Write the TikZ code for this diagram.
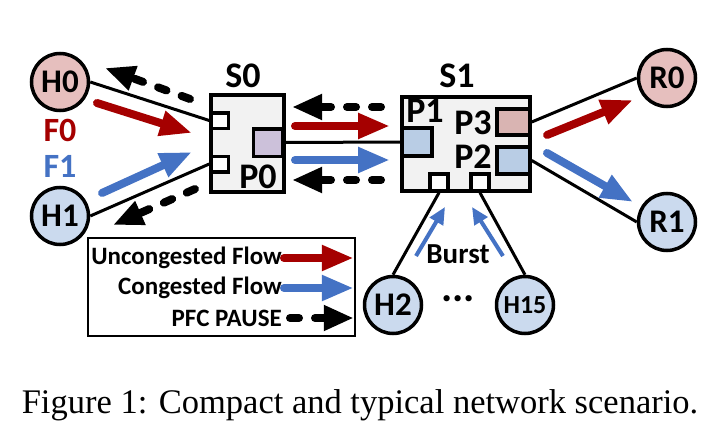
\documentclass[tikz,border=0pt]{standalone}
\usepackage{fontspec}
\setmainfont{Liberation Serif}
\newfontfamily\carlito{Carlito}
\usetikzlibrary{arrows.meta,calc}

\definecolor{flowred}{HTML}{A50000}
\definecolor{flowblue}{HTML}{4472C4}
\definecolor{hostred}{HTML}{E6BFBE}
\definecolor{hostblue}{HTML}{CBDAEE}
\definecolor{boxgray}{HTML}{F2F2F2}
\definecolor{portpurple}{HTML}{CCC1DA}
\definecolor{portblue}{HTML}{B9CDE5}
\definecolor{portred}{HTML}{D9B4B2}

\tikzset{
  host/.style={circle,draw,line width=3.5pt,minimum size=57pt,inner sep=0pt,
    font=\carlito\bfseries\fontsize{33}{33}\selectfont},
  switchbox/.style={rectangle,draw,line width=4pt,fill=boxgray,inner sep=0pt},
  port/.style={rectangle,draw,line width=3.5pt,inner sep=0pt},
  lbl/.style={inner sep=0pt,font=\carlito\bfseries\fontsize{36}{36}\selectfont},
  leglbl/.style={inner sep=0pt,anchor=east,font=\carlito\bfseries\fontsize{25}{25}\selectfont},
  link/.style={line width=3pt},
  redflow/.style={flowred,line width=8pt,line cap=round,-{Triangle[length=32pt,width=24pt]}},
  blueflow/.style={flowblue,line width=8pt,line cap=round,-{Triangle[length=32pt,width=24pt]}},
  pause/.style={black,line width=8pt,line cap=round,dash pattern=on 9pt off 16pt,
    -{Triangle[length=30pt,width=24pt]}},
  burstflow/.style={flowblue,line width=4pt,-{Triangle[length=17pt,width=15pt]}}
}

\begin{document}
\begin{tikzpicture}[x=1pt,y=-1pt]
  \useasboundingbox (0,0) rectangle (718,436);

  % hosts and receivers
  \draw (60,82) node[host,fill=hostred] (H0) {H0};
  \draw (60,216) node[host,fill=hostblue] (H1) {H1};
  \draw (667,78) node[host,fill=hostred] (R0) {R0};
  \draw (667,222) node[host,fill=hostblue] (R1) {R1};
  \draw (393,305) node[host,fill=hostblue] (H2) {H2};
  \draw (525,305) node[host,fill=hostblue,font=\carlito\bfseries\fontsize{26}{26}\selectfont] (H15) {H15};

  % switch S0
  \draw (247.5,143.5) node[switchbox,minimum width=73pt,minimum height=97pt] (S0) {};
  \draw (219.75,120.5) node[port,fill=white,minimum width=17.5pt,minimum height=15.5pt] (s0a) {};
  \draw (219.75,164) node[port,fill=white,minimum width=17.5pt,minimum height=15.5pt] (s0b) {};
  \draw (268,142.5) node[port,fill=portpurple,minimum width=29.5pt,minimum height=27.5pt] (P0) {};

  % switch S1
  \draw (466,144) node[switchbox,minimum width=128pt,minimum height=94pt] (S1) {};
  \draw (417,142) node[port,fill=portblue,minimum width=30pt,minimum height=28pt] (P1) {};
  \draw (513.5,122) node[port,fill=portred,minimum width=33pt,minimum height=26pt] (P3) {};
  \draw (513.5,160.5) node[port,fill=portblue,minimum width=33pt,minimum height=27pt] (P2) {};
  \draw (439,182.5) node[port,fill=white,minimum width=18pt,minimum height=17pt] (s1a) {};
  \draw (480,182.5) node[port,fill=white,minimum width=18pt,minimum height=17pt] (s1b) {};

  % labels
  \draw (243,76) node[lbl] (s0name) {S0};
  \draw (457,76) node[lbl] (s1name) {S1};
  \draw (258,177) node[lbl] (p0name) {P0};
  \draw (425,111) node[lbl] (p1name) {P1};
  \draw (473,123) node[lbl] (p3name) {P3};
  \draw (473,157) node[lbl] (p2name) {P2};
  \draw (60,130) node[lbl,text=flowred,font=\carlito\bfseries\fontsize{34}{34}\selectfont] (f0name) {F0};
  \draw (60,166) node[lbl,text=flowblue,font=\carlito\bfseries\fontsize{34}{34}\selectfont] (f1name) {F1};
  \draw (458,254) node[lbl,font=\carlito\bfseries\fontsize{29}{29}\selectfont] (burst) {Burst};
  \draw (458,298) node[lbl,text height=6pt,text depth=0pt,font=\carlito\bfseries\fontsize{42}{42}\selectfont] (dots) {...};

  % links
  \draw[link] (H0.east) -- (s0a.west);
  \draw[link] (H1.east) -- (s0b.west);
  \draw[link] (S0.east |- P0.east) -- (P1.west);
  \draw[link] (P3.east) -- (R0.west);
  \draw[link] (P2.east) -- (R1.west);
  \draw[link] (H2.north) -- (s1a.south);
  \draw[link] (H15.north) -- (s1b.south);

  % flow ends
  \coordinate (f0a) at (97,103);   \coordinate (f0b) at (192,133);
  \coordinate (f1a) at (102,193);  \coordinate (f1b) at (192,152);
  \coordinate (f2a) at (295,126);  \coordinate (f2b) at (390,126);
  \coordinate (f3a) at (295,160);  \coordinate (f3b) at (390,160);
  \coordinate (f4a) at (547,135);  \coordinate (f4b) at (633,100);
  \coordinate (f5a) at (547,153);  \coordinate (f5b) at (633,202);
  \coordinate (pa) at (190,99);    \coordinate (pb) at (105,68);
  \coordinate (pc) at (195,189);   \coordinate (pd) at (113,225);
  \coordinate (pe) at (381,107);   \coordinate (pf) at (292,107);
  \coordinate (pg) at (381,180);   \coordinate (ph) at (292,180);
  \coordinate (ba) at (416,256);   \coordinate (bb) at (445,207);
  \coordinate (bc) at (503,256);   \coordinate (bd) at (472,207);

  \draw[redflow] (f0a) -- (f0b);
  \draw[blueflow] (f1a) -- (f1b);
  \draw[redflow] (f2a) -- (f2b);
  \draw[blueflow] (f3a) -- (f3b);
  \draw[redflow] (f4a) -- (f4b);
  \draw[blueflow] (f5a) -- (f5b);
  \draw[pause] (pa) -- (pb);
  \draw[pause] (pc) -- (pd);
  \draw[pause] (pe) -- (pf);
  \draw[pause] (pg) -- (ph);
  \draw[burstflow] (ba) -- (bb);
  \draw[burstflow] (bc) -- (bd);

  % legend
  \draw (221.5,287) node[rectangle,draw,line width=1.5pt,minimum width=267pt,minimum height=98pt] (legend) {};
  \draw (282,258) node[leglbl] (lg1) {Uncongested Flow};
  \draw (282,288) node[leglbl] (lg2) {Congested Flow};
  \draw (282,318) node[leglbl] (lg3) {PFC PAUSE};
  \draw[redflow,shorten <=-2pt,shorten >=2pt] ($(lg1.east)+(4,0)$) -- (lg1.east -| legend.east);
  \draw[blueflow,shorten <=-2pt,shorten >=2pt] ($(lg2.east)+(4,0)$) -- (lg2.east -| legend.east);
  \draw[pause,shorten >=2pt] ($(lg3.east)+(8,0)$) -- (lg3.east -| legend.east);

  % caption
  \draw (360,405) node[inner sep=0pt,font=\fontsize{34.5}{34.5}\selectfont] (caption) {Figure 1: Compact and typical network scenario.};
\end{tikzpicture}
\end{document}
